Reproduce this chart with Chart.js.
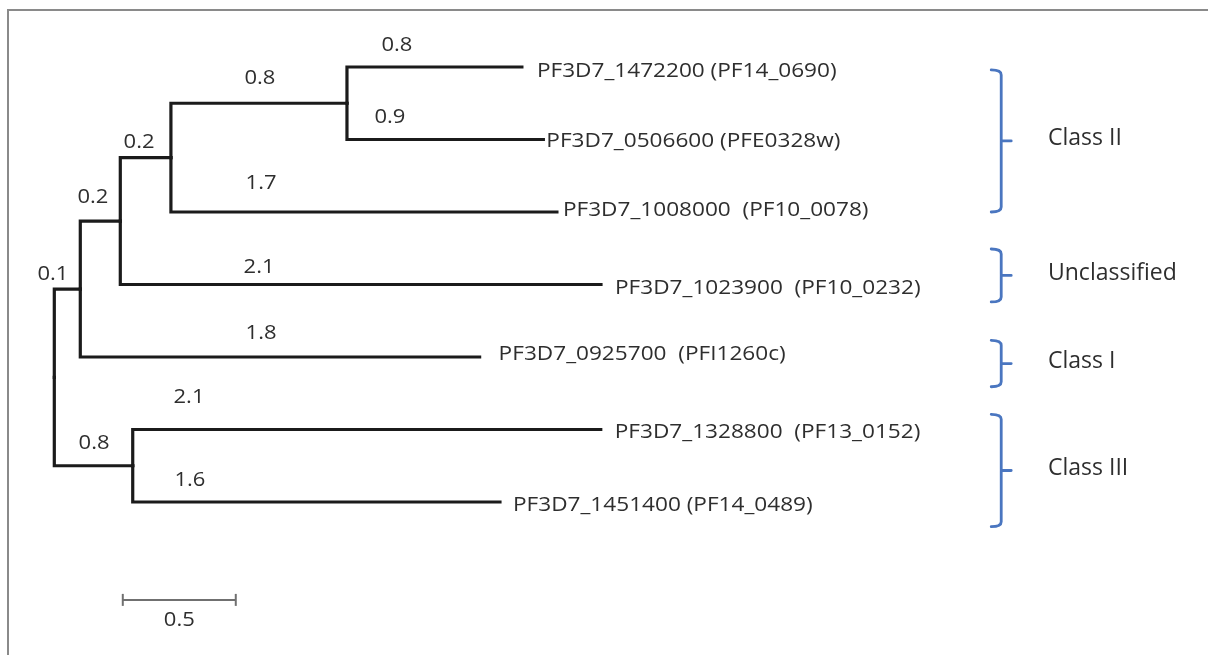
<!DOCTYPE html>
<html>
<head>
<meta charset="utf-8">
<script src="https://cdn.jsdelivr.net/npm/chart.js@4"></script>
<style>
  html, body { margin: 0; padding: 0; background: #fff; }
  #wrap { width: 1208px; height: 655px; }
</style>
</head>
<body>
<div id="wrap"><canvas id="treeChart" width="1208" height="655"></canvas></div>
<script>
// tree, branch lengths in substitutions per site
var nodeIds = ['A', 'B', 'C', 'D', 'L0', 'L1', 'L2', 'L3', 'L4', 'E', 'L5', 'L6'];
var parentIds = ['root', 'A', 'B', 'C', 'D', 'D', 'C', 'B', 'A', 'root', 'E', 'E'];
var branchLengths = [0.115, 0.177, 0.224, 0.779, 0.774, 0.869, 1.708, 2.127, 1.767, 0.347, 2.071, 1.625];
var branchLabels = ['0.1', '0.2', '0.2', '0.8', '0.8', '0.9', '1.7', '2.1', '1.8', '0.8', '2.1', '1.6'];

var leafIds = ['L0', 'L1', 'L2', 'L3', 'L4', 'L5', 'L6'];
var leafNames = [
    'PF3D7_1472200 (PF14_0690)',
    'PF3D7_0506600 (PFE0328w)',
    'PF3D7_1008000  (PF10_0078)',
    'PF3D7_1023900  (PF10_0232)',
    'PF3D7_0925700  (PFI1260c)',
    'PF3D7_1328800  (PF13_0152)',
    'PF3D7_1451400 (PF14_0489)'
];

// gene classes, spanning leaf rows
var groupNames = ['Class II', 'Unclassified', 'Class I', 'Class III'];
var groupFrom = [0.04, 2.51, 3.77, 4.79];
var groupTo = [2.0, 3.24, 4.41, 6.34];

var scaleBarValue = 0.5;

// layout (axis units / pixel nudges)
var branchLabelX = [-0.006, 0.171, 0.375, 0.910, 1.516, 1.485, 0.915, 0.906, 0.915, 0.176, 0.596, 0.600];
var branchLabelRow = [2.855, 1.793, 1.034, 0.152, -0.303, 0.690, 1.600, 2.759, 3.669, 5.186, 4.552, 5.697];
var leafLabelGap = [15, 3, 6, 14, 19, 14, 13];
var leafLabelDrop = [10, 8, 4, 9, 3, 8, 9];
var scaleBarX = 0.303, scaleBarRow = 7.35;
var bracketX = 4.19, groupLabelX = 4.397;

// node positions: x = distance from root, y = leaf row (internal nodes sit between children)
var pos = { root: { x: 0 } };
nodeIds.forEach(function (id, i) {
    pos[id] = { x: pos[parentIds[i]].x + branchLengths[i] };
});
function rowOf(id) {
    var li = leafIds.indexOf(id);
    if (li >= 0) return li;
    var kids = nodeIds.filter(function (n, i) { return parentIds[i] === id; });
    var s = 0;
    kids.forEach(function (k) { s += rowOf(k); });
    return s / kids.length;
}
pos.root.y = rowOf('root');
nodeIds.forEach(function (id) { pos[id].y = rowOf(id); });

var datasets = nodeIds.map(function (id, i) {
    var p = pos[parentIds[i]], c = pos[id];
    return {
        data: [{ x: p.x, y: p.y }, { x: p.x, y: c.y }, { x: c.x, y: c.y }],
        showLine: true,
        pointRadius: 0,
        borderColor: '#1b1b1b',
        borderWidth: 3.2,
        borderJoinStyle: 'miter',
        borderCapStyle: 'square'
    };
});
datasets.push({
    data: [{ x: scaleBarX, y: scaleBarRow }, { x: scaleBarX + scaleBarValue, y: scaleBarRow }],
    showLine: true,
    borderColor: '#707070',
    borderWidth: 2,
    pointStyle: 'line',
    pointRotation: 90,
    pointRadius: 6,
    pointBorderColor: '#707070',
    pointBorderWidth: 2
});

function putText(ctx, text, x, y, size, align, baseline, stretch) {
    ctx.save();
    ctx.translate(x, y);
    ctx.scale(stretch, 1);
    ctx.font = size + 'px "Open Sans"';
    ctx.fillStyle = '#2e2e2e';
    ctx.textAlign = align;
    ctx.textBaseline = baseline;
    ctx.fillText(text, 0, 0);
    ctx.restore();
}

var treeDecor = {
    id: 'treeDecor',
    beforeDraw: function (chart) {
        var ctx = chart.ctx;
        ctx.save();
        ctx.strokeStyle = '#8a8a8a';
        ctx.lineWidth = 2;
        ctx.beginPath();
        ctx.moveTo(8, 660);
        ctx.lineTo(8, 10);
        ctx.lineTo(1215, 10);
        ctx.stroke();
        ctx.restore();
    },
    afterDatasetsDraw: function (chart) {
        var ctx = chart.ctx, xs = chart.scales.x, ys = chart.scales.y;
        branchLabels.forEach(function (t, i) {
            putText(ctx, t, xs.getPixelForValue(branchLabelX[i]), ys.getPixelForValue(branchLabelRow[i]), 20, 'center', 'middle', 1.1);
        });
        leafIds.forEach(function (id, i) {
            var px = xs.getPixelForValue(pos[id].x) + leafLabelGap[i];
            var py = ys.getPixelForValue(pos[id].y) + leafLabelDrop[i];
            putText(ctx, leafNames[i], px, py, 20, 'left', 'alphabetic', 1.13);
        });
        putText(ctx, String(scaleBarValue), xs.getPixelForValue(scaleBarX + scaleBarValue / 2), ys.getPixelForValue(scaleBarRow) + 20, 20, 'center', 'middle', 1.1);

        var bx = xs.getPixelForValue(bracketX);
        ctx.save();
        ctx.strokeStyle = '#4a76c0';
        ctx.lineWidth = 2.8;
        ctx.lineCap = 'round';
        groupNames.forEach(function (g, i) {
            var top = ys.getPixelForValue(groupFrom[i]), bot = ys.getPixelForValue(groupTo[i]);
            var mid = (top + bot) / 2;
            ctx.beginPath();
            ctx.moveTo(bx - 10, top);
            ctx.quadraticCurveTo(bx, top, bx, top + 5);
            ctx.lineTo(bx, bot - 5);
            ctx.quadraticCurveTo(bx, bot, bx - 10, bot);
            ctx.moveTo(bx, mid);
            ctx.lineTo(bx + 10, mid);
            ctx.stroke();
            putText(ctx, g, xs.getPixelForValue(groupLabelX), mid - 2, 23, 'left', 'middle', 1);
        });
        ctx.restore();
    }
};

var ctx = document.getElementById('treeChart').getContext('2d');
var treeChart = new Chart(ctx, {
    type: 'scatter',
    data: { datasets: datasets },
    options: {
        responsive: false,
        animation: false,
        layout: { padding: 0, autoPadding: false },
        plugins: {
            legend: { display: false },
            tooltip: { enabled: false }
        },
        scales: {
            x: { type: 'linear', min: -0.2403, max: 5.105, display: false },
            y: { type: 'linear', min: -0.924, max: 8.110, reverse: true, display: false }
        }
    },
    plugins: [treeDecor]
});
</script>
</body>
</html>
